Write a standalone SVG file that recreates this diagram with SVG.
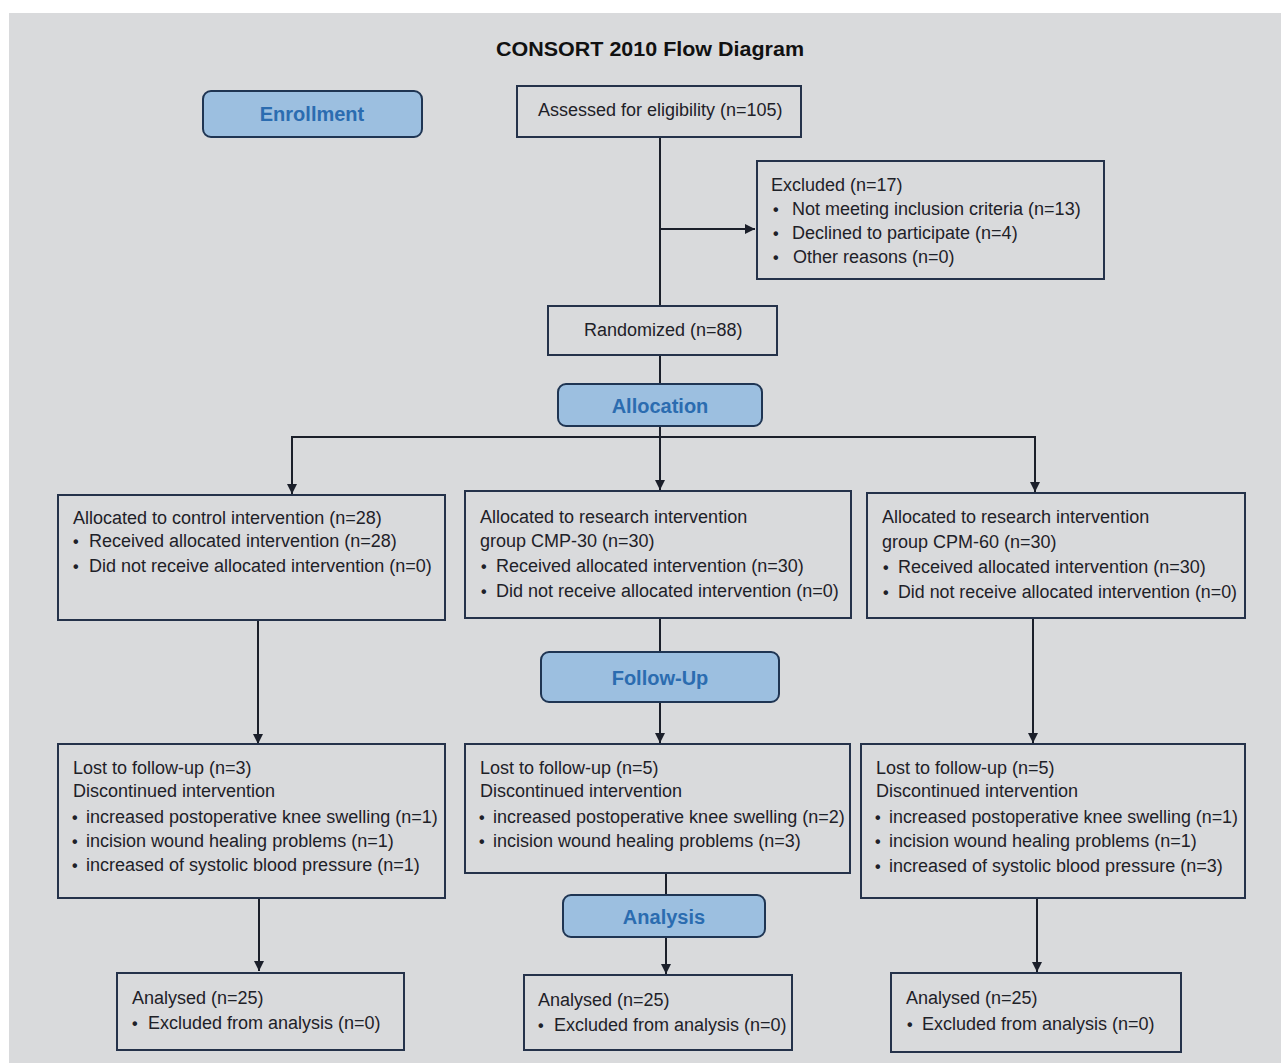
<svg xmlns="http://www.w3.org/2000/svg" width="1281" height="1063" viewBox="0 0 1281 1063">
<defs>
<marker id="arr" viewBox="0 0 10 10" refX="10" refY="5" markerWidth="10" markerHeight="10" markerUnits="userSpaceOnUse" orient="auto">
<path d="M0,0 L10,5 L0,10 z" fill="#1b1f2a"/>
</marker>
<style>
.box{fill:none;stroke:#25324a;stroke-width:2}
.hdr{fill:#9cbfe0;stroke:#1f3553;stroke-width:2}
.ht{font-family:"Liberation Sans",Arial,sans-serif;font-weight:bold;font-size:20px;fill:#2b6cb0;text-anchor:middle}
.t{font-family:"Liberation Sans",Arial,sans-serif;font-size:18px;fill:#1e2128}
.b{font-family:"Liberation Sans",Arial,sans-serif;font-size:16px;font-weight:bold;fill:#1e2128}
.ln{fill:none;stroke:#1b1f2a;stroke-width:2}
</style>
</defs>
<rect x="0" y="0" width="1281" height="1063" fill="#ffffff"/>
<rect x="9" y="13" width="1272" height="1050" fill="#d9dadc"/>
<text x="650" y="56" font-family="'Liberation Sans',Arial,sans-serif" font-weight="bold" font-size="21" fill="#111" text-anchor="middle" textLength="308" lengthAdjust="spacingAndGlyphs">CONSORT 2010 Flow Diagram</text>

<g id="connectors">
<line class="ln" x1="660" y1="137" x2="660" y2="306"/>
<line class="ln" x1="660" y1="229" x2="755" y2="229" marker-end="url(#arr)"/>
<line class="ln" x1="660" y1="355" x2="660" y2="384"/>
<line class="ln" x1="660" y1="426" x2="660" y2="490" marker-end="url(#arr)"/>
<line class="ln" x1="292" y1="437" x2="1035" y2="437"/>
<line class="ln" x1="292" y1="436" x2="292" y2="494" marker-end="url(#arr)"/>
<line class="ln" x1="1035" y1="436" x2="1035" y2="492" marker-end="url(#arr)"/>
<line class="ln" x1="258" y1="620" x2="258" y2="744" marker-end="url(#arr)"/>
<line class="ln" x1="660" y1="618" x2="660" y2="652"/>
<line class="ln" x1="660" y1="702" x2="660" y2="743" marker-end="url(#arr)"/>
<line class="ln" x1="1033" y1="618" x2="1033" y2="743" marker-end="url(#arr)"/>
<line class="ln" x1="259" y1="898" x2="259" y2="971" marker-end="url(#arr)"/>
<line class="ln" x1="666" y1="873" x2="666" y2="895"/>
<line class="ln" x1="666" y1="937" x2="666" y2="974" marker-end="url(#arr)"/>
<line class="ln" x1="1037" y1="898" x2="1037" y2="972" marker-end="url(#arr)"/>
</g>

<g id="enrollment">
<rect class="hdr" x="203" y="91" width="219" height="46" rx="8"/>
<text class="ht" x="312" y="121">Enrollment</text>
</g>

<g id="assessed">
<rect class="box" x="517" y="86" width="284" height="51"/>
<text class="t" x="538" y="116">Assessed for eligibility (n=105)</text>
</g>

<g id="excluded">
<rect class="box" x="757" y="161" width="347" height="118"/>
<text class="t" x="771" y="191">Excluded (n=17)</text>
<text class="b" x="773" y="215">•</text><text class="t" x="792" y="215">Not meeting inclusion criteria (n=13)</text>
<text class="b" x="773" y="239">•</text><text class="t" x="792" y="239">Declined to participate (n=4)</text>
<text class="b" x="773" y="263">•</text><text class="t" x="793" y="263">Other reasons (n=0)</text>
</g>

<g id="randomized">
<rect class="box" x="548" y="306" width="229" height="49"/>
<text class="t" x="584" y="336">Randomized (n=88)</text>
</g>

<g id="allocation">
<rect class="hdr" x="558" y="384" width="204" height="42" rx="8"/>
<text class="ht" x="660" y="413">Allocation</text>
</g>

<g id="alloc-control">
<rect class="box" x="58" y="495" width="387" height="125"/>
<text class="t" x="73" y="524">Allocated to control intervention (n=28)</text>
<text class="b" x="73" y="547">•</text><text class="t" x="89" y="547">Received allocated intervention (n=28)</text>
<text class="b" x="73" y="572">•</text><text class="t" x="89" y="572">Did not receive allocated intervention (n=0)</text>
</g>

<g id="alloc-cmp30">
<rect class="box" x="465" y="491" width="386" height="127"/>
<text class="t" x="480" y="523">Allocated to research intervention</text>
<text class="t" x="480" y="547">group CMP-30 (n=30)</text>
<text class="b" x="481" y="572">•</text><text class="t" x="496" y="572">Received allocated intervention (n=30)</text>
<text class="b" x="481" y="597">•</text><text class="t" x="496" y="597">Did not receive allocated intervention (n=0)</text>
</g>

<g id="alloc-cpm60">
<rect class="box" x="867" y="493" width="378" height="125"/>
<text class="t" x="882" y="523">Allocated to research intervention</text>
<text class="t" x="882" y="548">group CPM-60 (n=30)</text>
<text class="b" x="883" y="573">•</text><text class="t" x="898" y="573">Received allocated intervention (n=30)</text>
<text class="b" x="883" y="598">•</text><text class="t" x="898" y="598" textLength="339" lengthAdjust="spacingAndGlyphs">Did not receive allocated intervention (n=0)</text>
</g>

<g id="followup">
<rect class="hdr" x="541" y="652" width="238" height="50" rx="8"/>
<text class="ht" x="660" y="685">Follow-Up</text>
</g>

<g id="fu-control">
<rect class="box" x="58" y="744" width="387" height="154"/>
<text class="t" x="73" y="774">Lost to follow-up (n=3)</text>
<text class="t" x="73" y="797">Discontinued intervention</text>
<text class="b" x="72" y="823">•</text><text class="t" x="86" y="823">increased postoperative knee swelling (n=1)</text>
<text class="b" x="72" y="847">•</text><text class="t" x="86" y="847">incision wound healing problems (n=1)</text>
<text class="b" x="72" y="871">•</text><text class="t" x="86" y="871">increased of systolic blood pressure (n=1)</text>
</g>

<g id="fu-cmp30">
<rect class="box" x="465" y="744" width="385" height="129"/>
<text class="t" x="480" y="774">Lost to follow-up (n=5)</text>
<text class="t" x="480" y="797">Discontinued intervention</text>
<text class="b" x="479" y="823">•</text><text class="t" x="493" y="823">increased postoperative knee swelling (n=2)</text>
<text class="b" x="479" y="847">•</text><text class="t" x="493" y="847">incision wound healing problems (n=3)</text>
</g>

<g id="fu-cpm60">
<rect class="box" x="861" y="744" width="384" height="154"/>
<text class="t" x="876" y="774">Lost to follow-up (n=5)</text>
<text class="t" x="876" y="797">Discontinued intervention</text>
<text class="b" x="875" y="823">•</text><text class="t" x="889" y="823" textLength="349" lengthAdjust="spacingAndGlyphs">increased postoperative knee swelling (n=1)</text>
<text class="b" x="875" y="847">•</text><text class="t" x="889" y="847">incision wound healing problems (n=1)</text>
<text class="b" x="875" y="872">•</text><text class="t" x="889" y="872">increased of systolic blood pressure (n=3)</text>
</g>

<g id="analysis">
<rect class="hdr" x="563" y="895" width="202" height="42" rx="8"/>
<text class="ht" x="664" y="924">Analysis</text>
</g>

<g id="an-control">
<rect class="box" x="117" y="973" width="287" height="77"/>
<text class="t" x="132" y="1004">Analysed (n=25)</text>
<text class="b" x="132" y="1029">•</text><text class="t" x="148" y="1029">Excluded from analysis (n=0)</text>
</g>

<g id="an-cmp30">
<rect class="box" x="524" y="975" width="268" height="75"/>
<text class="t" x="538" y="1006">Analysed (n=25)</text>
<text class="b" x="538" y="1031">•</text><text class="t" x="554" y="1031">Excluded from analysis (n=0)</text>
</g>

<g id="an-cpm60">
<rect class="box" x="891" y="973" width="290" height="79"/>
<text class="t" x="906" y="1004">Analysed (n=25)</text>
<text class="b" x="907" y="1030">•</text><text class="t" x="922" y="1030">Excluded from analysis (n=0)</text>
</g>
</svg>
